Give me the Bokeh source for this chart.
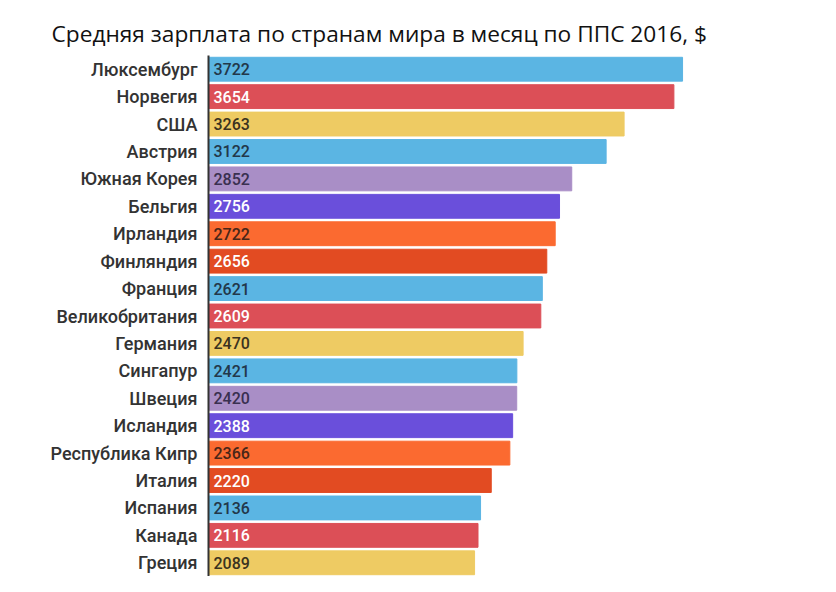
from bokeh.plotting import figure
from bokeh.models import ColumnDataSource, Range1d, FactorRange
from bokeh.core.properties import value
from bokeh.embed import file_html
from bokeh.resources import INLINE

countries = ["Люксембург", "Норвегия", "США", "Австрия", "Южная Корея", "Бельгия",
             "Ирландия", "Финляндия", "Франция", "Великобритания", "Германия",
             "Сингапур", "Швеция", "Исландия", "Республика Кипр", "Италия",
             "Испания", "Канада", "Греция"]
salaries = [3722, 3654, 3263, 3122, 2852, 2756, 2722, 2656, 2621, 2609, 2470,
            2421, 2420, 2388, 2366, 2220, 2136, 2116, 2089]

palette = ["#5BB5E3", "#DC4F57", "#EECB63", "#5BB5E3", "#A98EC6", "#6A4FDB",
           "#FB6A30", "#E24B22"]
text_palette = ["#23384a", "#ffffff", "#3b3320", "#23384a", "#3a3050", "#ffffff",
                "#4a2618", "#ffffff"]
style_palette = ["normal", "bold", "normal", "normal", "normal", "bold",
                 "normal", "bold"]

n = len(countries)
colors = [palette[i % 8] for i in range(n)]
tcolors = [text_palette[i % 8] for i in range(n)]
fstyles = [style_palette[i % 8] for i in range(n)]

src = ColumnDataSource(dict(country=countries, sal=salaries, color=colors,
                            tcolor=tcolors, fstyle=fstyles,
                            label=[str(v) for v in salaries],
                            zero=[0] * n))

yr = FactorRange(*countries[::-1])
yr.range_padding = 0

p = figure(width=820, height=576, output_backend="svg", toolbar_location=None,
           y_range=yr, x_range=Range1d(0, 4648),
           min_border_left=208, min_border_right=20, min_border_top=55,
           min_border_bottom=0,
           title="Средняя зарплата по странам мира в месяц по ППС 2016, $")

p.hbar(y="country", left=0, right="sal", height=0.87, color="color", source=src)
p.text(x="zero", y="country", text="label", text_color="tcolor", source=src,
       x_offset=5, text_baseline="middle", text_align="left",
       text_font=value("Roboto Medium"), text_font_size="16px",
       text_font_style="fstyle")

p.title.text_font = "Open Sans"
p.title.text_font_size = "22.7px"
p.title.text_font_style = "normal"
p.title.text_color = "#111111"
p.title.align = "left"
p.title.offset = -157
p.title.standoff = 14

p.xaxis.visible = False
p.xgrid.visible = False
p.ygrid.visible = False
p.outline_line_color = None

ax = p.yaxis[0]
ax.axis_line_color = "#333333"
ax.axis_line_width = 2
ax.major_tick_line_color = None
ax.minor_tick_line_color = None
ax.major_tick_out = 0
ax.major_tick_in = 0
ax.major_label_standoff = 11
ax.major_label_text_font = "Roboto Medium"
ax.major_label_text_font_size = "18px"
ax.major_label_text_font_style = "normal"
ax.major_label_text_color = "#333333"

open("out.html", "w").write(file_html(p, INLINE))
